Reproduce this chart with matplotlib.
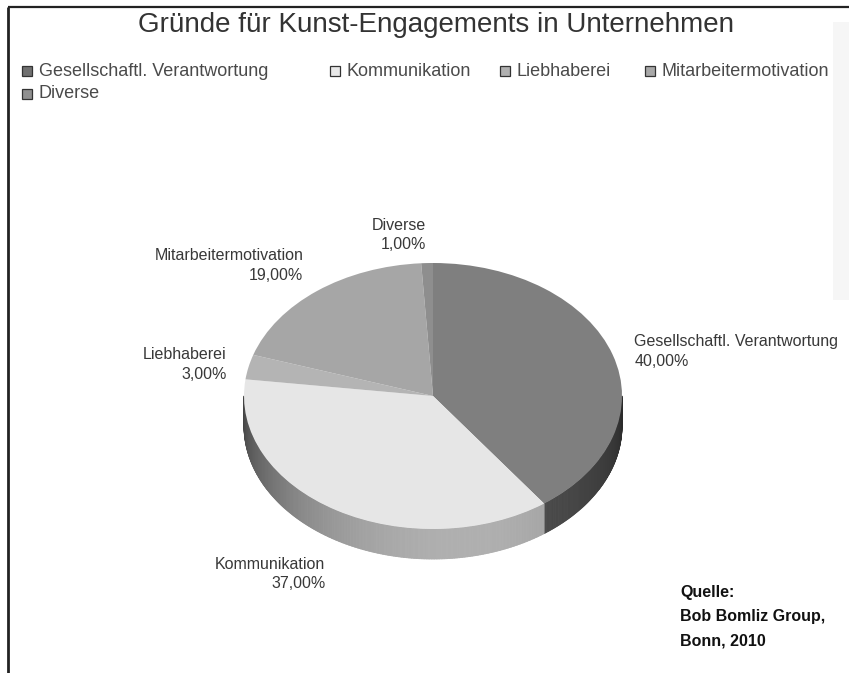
import numpy as np
import matplotlib.pyplot as plt
from matplotlib.transforms import Affine2D
from matplotlib.collections import PolyCollection
from matplotlib.patches import Rectangle

# ---------------- data ----------------
CATEGORIES = [
    "Gesellschaftl. Verantwortung",
    "Kommunikation",
    "Liebhaberei",
    "Mitarbeitermotivation",
    "Diverse",
]
SHARES = [40.0, 37.0, 3.0, 19.0, 1.0]

TITLE = "Gründe für Kunst-Engagements in Unternehmen"
SOURCE = "Quelle:\nBob Bomliz Group,\nBonn, 2010"

# ---------------- styles ----------------
TOP_COLORS = ["#7f7f7f", "#e6e6e6", "#b4b4b4", "#a6a6a6", "#8e8e8e"]
SIDE_BASE = [100, 225, 180, 166, 142]  # grey level of the rim before shading
LEGEND_COLORS = ["#707070", "#e8e8e8", "#b0b0b0", "#a8a8a8", "#909090"]
LEGEND_POS = [(27, 71), (335, 71), (505, 71), (650, 71), (27, 94)]

plt.rcParams["font.family"] = ["Liberation Sans", "DejaVu Sans"]

W, H = 849, 673
CX, CY = 433, 396      # centre of the pie top (px)
RX, RY = 189, 133      # ellipse radii (px)
DEPTH = 30 / RY        # rim height in unit-circle coordinates

fig = plt.figure(figsize=(W / 100, H / 100), dpi=100)
ax = fig.add_axes([0, 0, 1, 1])

wedges, _ = ax.pie(SHARES, colors=TOP_COLORS, startangle=90, counterclock=False,
                   radius=1, center=(0, 0), wedgeprops=dict(linewidth=0))
ax.set_aspect("auto")
ax.set_xlim(0, W)
ax.set_ylim(H, 0)
ax.axis("off")

# unit circle -> flattened ellipse in pixel-like data coords
tr = Affine2D().scale(RX, -RY).translate(CX, CY) + ax.transData
for w in wedges:
    w.set_transform(tr)
    w.set_zorder(3)

# ---------------- rim (front half only) ----------------
total = sum(SHARES)
cum = np.concatenate([[0], np.cumsum(SHARES)])
starts = 90 - cum[:-1] / total * 360
ends = 90 - cum[1:] / total * 360

polys, cols = [], []
for i in range(len(SHARES)):
    lo, hi = ends[i], starts[i]
    for k in (-1, 0, 1, 2):
        a, b = max(lo + 360 * k, 180), min(hi + 360 * k, 360)
        if b <= a:
            continue
        ts = np.linspace(a, b, max(2, int((b - a) / 0.5) + 1))
        for t1, t2 in zip(ts[:-1], ts[1:]):
            r1, r2 = np.radians(t1), np.radians(t2)
            polys.append([(np.cos(r1), np.sin(r1)), (np.cos(r2), np.sin(r2)),
                          (np.cos(r2), np.sin(r2) - DEPTH),
                          (np.cos(r1), np.sin(r1) - DEPTH)])
            f = 0.36 + 0.42 * np.cos(np.radians((t1 + t2) / 2 - 280))
            g = min(1.0, SIDE_BASE[i] * f / 255)
            cols.append((g, g, g))

rim = PolyCollection(polys, facecolors=cols, edgecolors=cols, linewidths=0.6,
                     transform=tr, zorder=2)
ax.add_collection(rim)

# ---------------- slice labels ----------------
for i, name in enumerate(CATEGORIES):
    mid = np.radians((starts[i] + ends[i]) / 2)
    c, s = np.cos(mid), np.sin(mid)
    x = 1.12 * c
    y = 1.08 * s if s > 0 else 1.14 * s - DEPTH
    ha = "left" if c > 0 else "right"
    va = "bottom" if s > 0.5 else ("top" if s < -0.5 else "center")
    pct = f"{SHARES[i]:.2f}".replace(".", ",") + "%"
    ax.text(x, y, name + "\n" + pct, transform=tr, ha=ha, va=va,
            multialignment=ha, fontsize=11.5, color="#383838",
            linespacing=1.4, zorder=5)

# ---------------- legend ----------------
for (lx, ly), name, col in zip(LEGEND_POS, CATEGORIES, LEGEND_COLORS):
    ax.add_patch(Rectangle((lx - 5, ly - 5), 10, 10, facecolor=col,
                           edgecolor="#333333", linewidth=0.9, zorder=5))
    ax.text(lx + 12, ly, name, ha="left", va="center", fontsize=13,
            color="#4a4a4a", zorder=5)

# ---------------- title, source, frame ----------------
ax.text(436, 25, TITLE, ha="center", va="center", fontsize=20, color="#333333")
ax.text(680, 585, SOURCE, ha="left", va="top", fontsize=11.5, fontweight="bold",
        color="#111111", linespacing=1.75)

ax.plot([8, 8], [7, H], color="#222222", linewidth=2, solid_capstyle="butt")
ax.plot([8, W], [7, 7], color="#222222", linewidth=1.6, solid_capstyle="butt")
ax.add_patch(Rectangle((833, 22), 16, 278, facecolor="#f6f6f6", edgecolor="none",
                       zorder=0))

fig.savefig("out.png", dpi=100)
